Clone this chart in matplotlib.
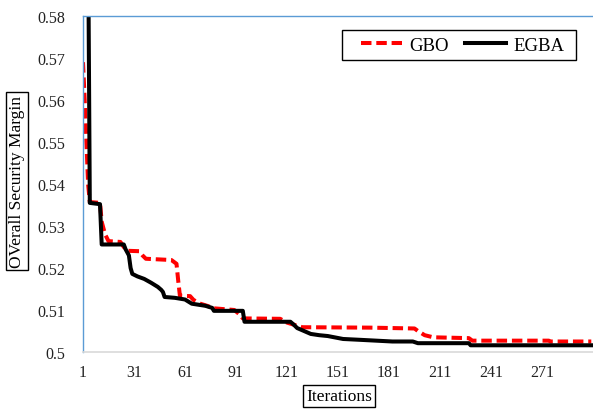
import matplotlib.pyplot as plt
from matplotlib.patches import Rectangle

plt.rcParams['font.family'] = ['Liberation Serif', 'DejaVu Serif']

# change points of the convergence curves (iteration, best value)
gbo_iter = [1, 2, 3, 4, 5, 11, 12, 14, 16, 23, 25, 27, 34, 36, 38, 53, 56, 57, 58, 64,
            66, 70, 74, 78, 90, 93, 95, 117, 121, 125, 130, 170, 196, 198, 202, 207,
            228, 230, 275, 276, 300]
gbo_val = [0.569, 0.560, 0.550, 0.540, 0.5357, 0.5355, 0.531, 0.528, 0.5264, 0.5262,
           0.5250, 0.5241, 0.5240, 0.5230, 0.5222, 0.5219, 0.5210, 0.5170, 0.5134, 0.5133,
           0.5124, 0.5115, 0.5110, 0.5104, 0.5100, 0.5090, 0.5080, 0.5079, 0.5070, 0.5065,
           0.5059, 0.5058, 0.5056, 0.5050, 0.5040, 0.5035, 0.5033, 0.5027, 0.5027, 0.5025,
           0.5025]

egba_iter = [1, 4, 5, 11, 12, 25, 26, 28, 29, 30, 33, 37, 41, 45, 47, 48, 49, 55, 61, 63,
             65, 73, 77, 78, 95, 96, 123, 125, 127, 131, 135, 140, 145, 154, 164, 183,
             195, 198, 228, 229, 300]
egba_val = [0.62, 0.60, 0.5355, 0.5352, 0.5256, 0.5256, 0.5245, 0.5230, 0.5200, 0.5186,
            0.5180, 0.5174, 0.5165, 0.5155, 0.5148, 0.5143, 0.5131, 0.5129, 0.5125, 0.5120,
            0.5115, 0.5110, 0.5105, 0.5098, 0.5098, 0.5072, 0.5072, 0.5065, 0.5057, 0.5050,
            0.5043, 0.5040, 0.5038, 0.5031, 0.5029, 0.5025, 0.5025, 0.5021, 0.5021, 0.5016,
            0.5016]

xticks = [1, 31, 61, 91, 121, 151, 181, 211, 241, 271]
yticks = [0.5, 0.51, 0.52, 0.53, 0.54, 0.55, 0.56, 0.57, 0.58]

fig = plt.figure(figsize=(5.93, 4.10), dpi=100)
ax = fig.add_axes([83/593, 57/410, 510/593, 336/410])

ax.plot(gbo_iter, gbo_val, color='red', lw=2.9, dashes=(2.6, 1.2), label='GBO')
ax.plot(egba_iter, egba_val, color='black', lw=2.9, label='EGBA')

ax.set_xlim(1, 301)
ax.set_ylim(0.5, 0.58)
ax.set_xticks(xticks)
ax.set_yticks(yticks)
ax.set_yticklabels([f"{t:g}" for t in yticks])
ax.tick_params(length=0, labelsize=11.5, colors='#222222')
ax.tick_params(axis='y', pad=13)
ax.tick_params(axis='x', pad=9)

for s in ['left', 'top']:
    ax.spines[s].set_color('#5B9BD5')
    ax.spines[s].set_linewidth(1.0)
ax.spines['bottom'].set_color('#D9D9D9')
ax.spines['bottom'].set_linewidth(1.2)
ax.spines['right'].set_visible(False)

box = dict(boxstyle='square,pad=0.15', fc='white', ec='black', lw=1.0)
fig.text(17/593, 1 - 182/410, 'OVerall Security Margin', rotation=90, ha='center',
         va='center', fontsize=12.5, bbox=box)
fig.text(339/593, 1 - 397/410, 'Iterations', ha='center', va='center',
         fontsize=12.5, bbox=box)

# legend: Excel-style frame drawn separately
fig.patches.append(Rectangle((342/593, 1 - 61/410), 234/593, 30/410,
                             transform=fig.transFigure, fill=False,
                             ec='black', lw=1.0))
ax.legend(loc='center left', bbox_to_anchor=(361/593, 1 - 46/410),
          bbox_transform=fig.transFigure, ncol=2, fontsize=13.5, frameon=False,
          handlelength=2.2, handletextpad=0.35, columnspacing=0.9,
          borderpad=0, borderaxespad=0)

fig.savefig('out.png', dpi=100)
